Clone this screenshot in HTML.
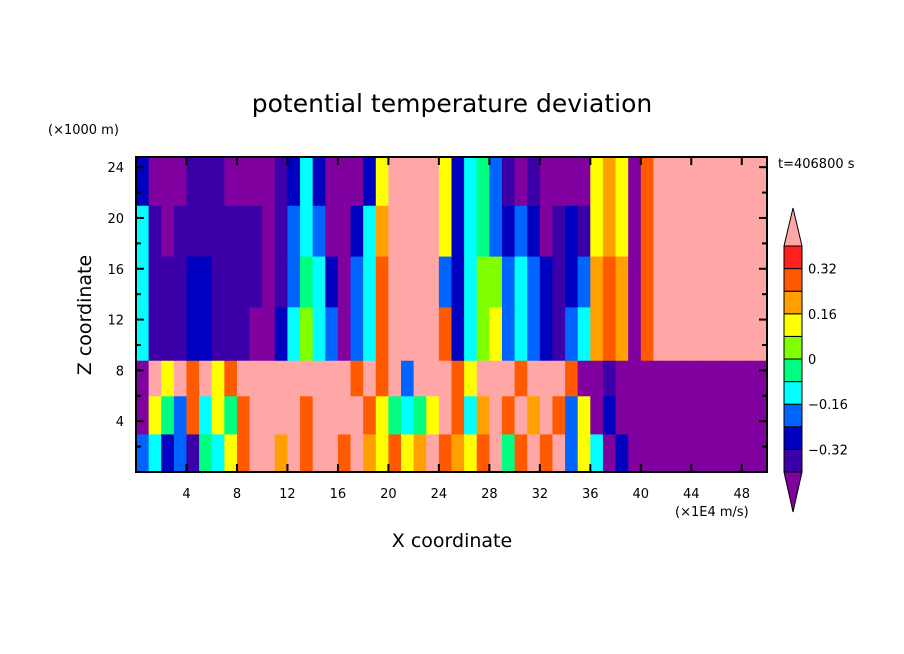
<!DOCTYPE html>
<html><head><meta charset="utf-8">
<style>
html,body{margin:0;padding:0;background:#fff;}
svg{display:block;font-family:"DejaVu Sans","Liberation Sans",sans-serif;}
</style></head>
<body>
<svg id="chart" width="904" height="654" viewBox="0 0 904 654">
<text x="452" y="112" text-anchor="middle" font-size="25">potential temperature deviation</text>
<text x="48" y="134" font-size="13">(×1000 m)</text>
<text x="778" y="168" font-size="13">t=406800 s</text>
<text x="452" y="547" text-anchor="middle" font-size="19">X coordinate</text>
<text x="675" y="516" font-size="13">(×1E4 m/s)</text>
<text transform="translate(91,315) rotate(-90)" text-anchor="middle" font-size="19">Z coordinate</text>
<g id="cells"></g>
<g id="axes"></g>
<g id="cbar"></g>
</svg>
<script>
// level codes: P=-0.45 I=-0.36 D=-0.28 B=-0.2 C=-0.12 G=-0.04 L=0.04 Y=0.12 O=0.2 R=0.28 r=0.36 K=0.45
const xCells = Array.from({length:50},(_,i)=>i); // cell start x (units)
const zBands = [[0,3],[3,6],[6,8.8],[8.8,13],[13,17],[17,21],[21,24.8]];
const row0a=[-0.2,-0.12,-0.28,-0.2,-0.36,-0.04,-0.12,0.12,0.28,0.45,0.45,0.2,0.45,0.28,0.45,0.45,0.28,0.45,0.2,0.12,0.28,0.12,0.2,0.45,0.28,0.2,0.12,0.28,0.45,-0.04,0.28,0.45,0.28,0.45,-0.2,0.12,-0.12,-0.45,-0.28,-0.45,-0.45,-0.45,-0.45,-0.45,-0.45,-0.45,-0.45,-0.45,-0.45,-0.45];
const row0b=[-0.45,0.12,-0.04,-0.2,0.28,-0.12,0.12,-0.04,0.28,0.45,0.45,0.45,0.45,0.28,0.45,0.45,0.45,0.45,0.28,0.12,-0.04,-0.12,-0.04,0.12,0.45,0.28,-0.12,0.2,0.45,0.28,0.45,0.2,0.45,0.28,-0.2,0.12,-0.45,-0.28,-0.45,-0.45,-0.45,-0.45,-0.45,-0.45,-0.45,-0.45,-0.45,-0.45,-0.45,-0.45];
const row0c=[-0.45,0.45,0.12,0.45,0.28,0.45,0.12,0.28,0.45,0.45,0.45,0.45,0.45,0.45,0.45,0.45,0.45,0.28,0.45,0.28,0.45,-0.2,0.45,0.45,0.45,0.28,0.12,0.45,0.45,0.45,0.28,0.45,0.45,0.45,0.28,-0.45,-0.45,-0.36,-0.45,-0.45,-0.45,-0.45,-0.45,-0.45,-0.45,-0.45,-0.45,-0.45,-0.45,-0.45];
const row1=[-0.12,-0.36,-0.36,-0.36,-0.28,-0.28,-0.36,-0.36,-0.36,-0.45,-0.45,-0.28,-0.12,0.04,-0.12,-0.2,-0.45,-0.2,-0.12,0.28,0.45,0.45,0.45,0.45,0.28,-0.28,-0.12,0.04,0.12,-0.2,-0.12,-0.2,-0.28,-0.36,-0.2,-0.12,0.2,0.28,0.2,-0.45,0.28,0.45,0.45,0.45,0.45,0.45,0.45,0.45,0.45,0.45];
const row2=[-0.12,-0.36,-0.36,-0.36,-0.28,-0.28,-0.36,-0.36,-0.36,-0.36,-0.45,-0.36,-0.2,-0.04,-0.12,-0.28,-0.45,-0.2,-0.12,0.28,0.45,0.45,0.45,0.45,-0.2,-0.28,-0.12,0.04,0.04,-0.2,-0.12,-0.2,-0.28,-0.36,-0.28,-0.2,0.2,0.28,0.2,-0.45,0.28,0.45,0.45,0.45,0.45,0.45,0.45,0.45,0.45,0.45];
const row3=[-0.12,-0.36,-0.45,-0.36,-0.36,-0.36,-0.36,-0.36,-0.36,-0.36,-0.45,-0.36,-0.2,-0.12,-0.2,-0.45,-0.45,-0.28,-0.12,0.2,0.45,0.45,0.45,0.45,0.12,-0.28,-0.12,-0.04,-0.2,-0.28,-0.2,-0.28,-0.45,-0.36,-0.28,-0.36,0.12,0.2,0.12,-0.45,0.28,0.45,0.45,0.45,0.45,0.45,0.45,0.45,0.45,0.45];
const row4=[-0.28,-0.45,-0.45,-0.45,-0.36,-0.36,-0.36,-0.45,-0.45,-0.45,-0.45,-0.36,-0.28,-0.12,-0.28,-0.45,-0.45,-0.45,-0.28,0.12,0.45,0.45,0.45,0.45,0.12,-0.28,-0.12,-0.04,-0.2,-0.36,-0.45,-0.36,-0.45,-0.45,-0.45,-0.45,0.12,0.2,0.12,-0.45,0.28,0.45,0.45,0.45,0.45,0.45,0.45,0.45,0.45,0.45];
const rows=[row0a,row0b,row0c,row1,row2,row3,row4];
const levels=[-0.4,-0.32,-0.24,-0.16,-0.08,0,0.08,0.16,0.24,0.32,0.4];
const colors=["#8000a0","#3c00a8","#0000c0","#0064ff","#00ffff","#00ff80","#80ff00","#ffff00","#ffa000","#ff5a00","#ff2020","#ffa6a6"];
const xTicks=[4,8,12,16,20,24,28,32,36,40,44,48];
const zTicks=[4,8,12,16,20,24];
const cbLabels=[0.32,0.16,0,-0.16,-0.32];

const NS="http://www.w3.org/2000/svg";
const X0=136,X1=767,Y0=472,Y1=157;
const xs=v=>X0+v*(X1-X0)/50;
const ys=z=>Y0-z*(Y0-Y1)/24.8;
function colorFor(v){let i=0;while(i<levels.length&&v>=levels[i])i++;return colors[i];}
function mk(tag,attrs,parent){const e=document.createElementNS(NS,tag);for(const k in attrs)e.setAttribute(k,attrs[k]);parent.appendChild(e);return e;}
const cells=document.getElementById('cells');
rows.forEach((row,ri)=>{
  const [za,zb]=zBands[ri];
  row.forEach((v,ci)=>{
    const x=xCells[ci];
    const r=mk('rect',{x:xs(x),y:ys(zb),width:xs(x+1)-xs(x)+0.5,height:ys(za)-ys(zb)+0.5,fill:colorFor(v)},cells);
    
    
  });
});
const ax=document.getElementById('axes');
const fr=mk('rect',{x:X0,y:Y1,width:X1-X0,height:Y0-Y1,fill:'none',stroke:'#000','stroke-width':2},ax);


xTicks.forEach(t=>{
  const x=xs(t);
  mk('line',{x1:x,x2:x,y1:Y0,y2:Y0-8,stroke:'#000','stroke-width':2},ax);
  mk('line',{x1:x,x2:x,y1:Y1,y2:Y1+8,stroke:'#000','stroke-width':2},ax);
  const tx=mk('text',{x:x,y:498,'text-anchor':'middle','font-size':13},ax);
  tx.textContent=t;
  
  
});
for(let z=2;z<=24;z+=2){
  const y=ys(z),L=(z%4===0)?8:5;
  mk('line',{x1:X0,x2:X0+L,y1:y,y2:y,stroke:'#000','stroke-width':2},ax);
  mk('line',{x1:X1,x2:X1-L,y1:y,y2:y,stroke:'#000','stroke-width':2},ax);
}
zTicks.forEach(t=>{
  const tx=mk('text',{x:124,y:ys(t)+5,'text-anchor':'end','font-size':13},ax);
  tx.textContent=t;
  
  
});
// colorbar
const cb=document.getElementById('cbar');
const CX=784,CW=18,CB=472,CT=246,step=(CB-CT)/10;
mk('polygon',{points:`${CX},${CT} ${CX+CW},${CT} ${CX+CW/2},208`,fill:colors[11],stroke:'#000','stroke-width':1},cb);
mk('polygon',{points:`${CX},${CB} ${CX+CW},${CB} ${CX+CW/2},512`,fill:colors[0],stroke:'#000','stroke-width':1},cb);
for(let i=1;i<=10;i++){
  const y=CB-i*step;
  const r=mk('rect',{x:CX,y:y,width:CW,height:step,fill:colors[i],stroke:'#000','stroke-width':1},cb);
  
  
}
cbLabels.forEach(v=>{
  const idx=levels.findIndex(l=>Math.abs(l-v)<1e-9);
  const y=CB-idx*step;
  const tx=mk('text',{x:808,y:y+5,'font-size':13},cb);
  tx.textContent=v===0?'0':(v<0?'\u2212'+Math.abs(v):String(v));
  
  
});
</script>
</body></html>
